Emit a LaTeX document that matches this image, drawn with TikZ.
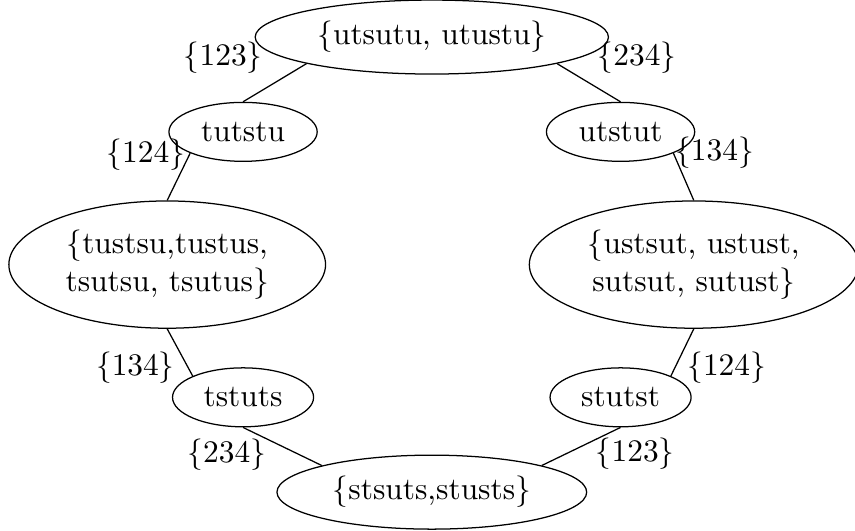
\documentclass[tikz,border=0pt]{standalone}
\usepackage{amsmath,amssymb}
\usepackage{tikz}
\usetikzlibrary{shapes,positioning}

\begin{document}
\begin{tikzpicture}[scale=0.965, cls/.style={draw, ellipse, align=center, minimum height=6.6mm}]
        \useasboundingbox (0,0) rectangle (9.92,6.16);

        % Classes
        \node[cls] (top) at (5.01,5.73) {$\{$utsutu, utustu$\}$};
        \node[cls] (tutstu) at (2.82,4.63) {tutstu};
        \node[cls] (utstut) at (7.20,4.63) {utstut};
        \node[cls] (lset) at (1.94,3.09) {$\{$tustsu,tustus,\\ tsutsu, tsutus$\}$};
        \node[cls] (rset) at (8.05,3.09) {$\{$ustsut, ustust,\\ sutsut, sutust$\}$};
        \node[cls] (tstuts) at (2.82,1.55) {tstuts};
        \node[cls] (stutst) at (7.20,1.55) {stutst};
        \node[cls] (bot) at (5.01,0.45) {$\{$stsuts,stusts$\}$};

        % Edges
        \draw (top.south west) -- (tutstu.north);
        \draw (top.south east) -- (utstut.north);
        \draw (tutstu.south west) -- (lset.north);
        \draw (utstut.south east) -- (rset.north);
        \draw (lset.south) -- (tstuts.north west);
        \draw (rset.south) -- (stutst.north east);
        \draw (tstuts.south) -- (bot.north west);
        \draw (stutst.south) -- (bot.north east);

        % Labels
        \node (l123a) at (2.59,5.49) {$\{123\}$};
        \node (l234a) at (7.39,5.49) {$\{234\}$};
        \node (l124a) at (1.69,4.36) {$\{124\}$};
        \node (l134a) at (8.29,4.39) {$\{134\}$};
        \node (l134b) at (1.57,1.90) {$\{134\}$};
        \node (l124b) at (8.43,1.90) {$\{124\}$};
        \node (l234b) at (2.63,0.88) {$\{234\}$};
        \node (l123b) at (7.37,0.90) {$\{123\}$};
    \end{tikzpicture}
\end{document}
